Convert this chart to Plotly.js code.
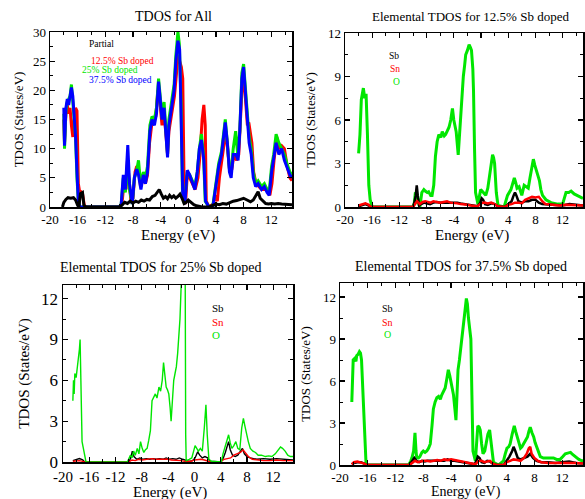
<!DOCTYPE html>
<html><head><meta charset="utf-8">
<script src="https://cdn.plot.ly/plotly-3.0.1.min.js"></script>
<style>html,body{margin:0;padding:0;background:#fff}#chart{width:585px;height:499px}</style>
</head><body><div id="chart"></div>
<script>
// ---------- tick labels ----------
const xTickVals = [-20,-16,-12,-8,-4,0,4,8,12];
const xTickText = ['-20','-16','-12','-8','-4','0','4','8','12'];

// ---------- panel 1: TDOS for All (energy eV, states/eV) ----------
const tdosPartial = [[-18.2,0],[-18.0,0.8],[-17.7,1.3],[-17.4,1.6],[-17.0,1.5],[-16.6,1.6],[-16.3,1.2],[-16.0,0.3],[-15.8,0.2],[-15.6,2.3],[-15.3,2.5],[-15.1,0.3],[-14.8,0],[-10.0,0],[-9.6,0.3],[-9.2,0.8],[-8.8,0.6],[-8.4,1.0],[-8.0,0.7],[-7.6,1.0],[-7.2,0.8],[-6.8,1.2],[-6.4,1.0],[-6.0,1.3],[-5.6,1.2],[-5.2,1.8],[-4.8,2.0],[-4.5,2.5],[-4.2,3.0],[-3.9,2.2],[-3.6,1.5],[-3.3,1.8],[-3.0,1.4],[-2.7,2.0],[-2.4,1.6],[-2.1,1.9],[-1.8,1.5],[-1.5,1.8],[-1.2,2.2],[-0.9,1.5],[-0.6,0.6],[-0.3,0.8],[0.0,1.2],[0.4,0.8],[0.8,0.4],[1.2,0.2],[1.6,0.1],[2.0,0.0],[3.0,0.0],[3.5,0.2],[4.0,0.5],[4.5,0.4],[5.0,0.6],[5.5,0.5],[6.0,0.8],[6.5,1.0],[7.0,1.1],[7.5,1.3],[8.0,1.5],[8.5,1.2],[9.0,0.9],[9.4,1.2],[9.8,2.0],[10.1,2.6],[10.4,1.5],[10.8,1.0],[11.2,0.6],[11.6,0.5],[12.0,0.6],[12.5,0.5],[13.0,0.6],[13.5,0.5],[14.0,0.5],[14.5,0.4],[15.0,0.4]];
const tdos125 = [[-18.0,15],[-17.9,11],[-17.7,16],[-17.5,17.5],[-17.3,16],[-17.1,17],[-16.9,14],[-16.7,12],[-16.5,15],[-16.3,17],[-16.1,16.5],[-15.9,4],[-15.7,2.5],[-15.5,2.6],[-15.3,2.3],[-15.1,0.2],[-15.0,0],[-10.0,0],[-9.6,0.5],[-9.3,4],[-9.0,3],[-8.8,8],[-8.6,5],[-8.3,1],[-8.0,1.5],[-7.7,6],[-7.45,7],[-7.2,6.5],[-6.9,3.5],[-6.5,5],[-6.2,4],[-5.9,5.5],[-5.6,11],[-5.3,14],[-5.0,15],[-4.7,15.5],[-4.4,20],[-4.1,18],[-3.8,14],[-3.5,16],[-3.2,12],[-3.0,9],[-2.8,13],[-2.4,16],[-2.0,19],[-1.7,23],[-1.5,26],[-1.25,25],[-1.0,24],[-0.8,22],[-0.6,3],[-0.4,0.5],[-0.15,5.5],[0.2,5],[0.6,4],[1.0,3],[1.4,5],[1.7,9],[2.0,15],[2.25,17.5],[2.45,14],[2.6,1],[3.0,0],[3.6,0.5],[3.9,2],[4.2,1],[4.5,5],[4.9,8],[5.2,11],[5.45,13],[5.7,10],[6.0,6],[6.3,6.5],[6.6,9],[7.0,8],[7.3,9],[7.55,15],[7.8,21],[8.05,22],[8.3,17],[8.55,14],[8.75,14.5],[9.0,12],[9.2,11],[9.45,6],[9.8,4],[10.2,3.5],[10.6,3],[11.0,3],[11.4,3],[11.8,2],[12.1,4],[12.4,8],[12.8,12],[13.1,10],[13.5,10.5],[13.9,10],[14.3,7],[14.7,5],[15.0,4.5]];
const tdos25 = [[-18.0,16],[-17.9,10],[-17.7,16.5],[-17.5,18],[-17.3,18.5],[-17.1,19],[-16.9,21],[-16.7,18],[-16.5,15],[-16.3,12],[-16.1,5],[-15.9,1],[-15.7,0],[-15.0,0],[-10.0,0],[-9.7,0.5],[-9.4,5],[-9.1,2.5],[-8.9,6],[-8.75,8],[-8.5,3],[-8.1,0.5],[-7.8,5],[-7.5,6],[-7.2,8],[-6.9,4],[-6.5,6],[-6.2,5],[-5.9,7],[-5.55,14],[-5.25,15.5],[-4.9,15],[-4.6,17],[-4.3,22],[-4.1,19.5],[-3.8,15.5],[-3.5,18],[-3.25,14],[-3.0,9],[-2.8,15],[-2.4,18],[-2.05,21],[-1.8,26],[-1.5,30],[-1.3,28],[-1.05,18],[-0.85,3],[-0.55,0.5],[-0.15,6],[0.2,5.5],[0.6,4.5],[0.95,3.5],[1.3,6],[1.6,10],[1.9,12.5],[2.2,9],[2.45,1],[3.0,0],[3.55,0.2],[4.0,4.5],[4.4,7.5],[4.8,9.5],[5.1,12.5],[5.35,15],[5.65,11],[5.95,6.5],[6.2,6],[6.5,10],[6.85,13],[7.15,9],[7.45,13],[7.75,23],[8.0,24.5],[8.2,21],[8.5,16],[8.8,12],[9.1,10],[9.4,6],[9.75,4],[10.1,4.5],[10.6,3.5],[11.0,4],[11.4,3],[11.7,2.5],[12.05,7],[12.35,9],[12.7,12.5],[13.1,11],[13.5,10],[13.9,9],[14.25,7.5],[14.7,6],[15.0,5.5]];
const tdos375 = [[-18.0,17],[-17.9,10.5],[-17.7,17],[-17.5,18.5],[-17.3,17.5],[-17.1,19.5],[-16.9,20.5],[-16.7,19],[-16.5,16],[-16.3,12],[-16.1,6],[-15.9,1],[-15.7,0],[-15.0,0],[-10.0,0],[-9.7,0.5],[-9.4,5.5],[-9.1,3],[-8.9,8],[-8.75,10.6],[-8.5,4],[-8.1,0.5],[-7.8,5],[-7.45,6.5],[-7.2,5.5],[-6.85,3],[-6.5,5.5],[-6.2,4],[-5.9,6],[-5.55,13],[-5.25,15],[-4.9,14],[-4.6,16],[-4.3,21.5],[-4.1,19],[-3.8,15],[-3.5,17],[-3.25,13],[-3.0,8.5],[-2.8,14],[-2.4,17],[-2.05,20],[-1.8,25],[-1.5,28.5],[-1.25,27],[-1.0,15],[-0.8,2],[-0.5,0.5],[-0.15,6.3],[0.2,5.5],[0.6,4],[0.95,3],[1.3,6],[1.6,10],[1.9,11.5],[2.25,8],[2.5,1],[3.0,0],[3.55,0],[4.0,4],[4.4,7],[4.8,9],[5.1,12],[5.35,14.5],[5.65,11],[5.95,6],[6.2,5],[6.5,9],[6.9,9],[7.2,8],[7.45,13],[7.75,22],[8.0,24],[8.2,21],[8.5,15],[8.8,11],[9.1,9],[9.4,5],[9.75,3.5],[10.1,4],[10.6,3],[11.0,3.5],[11.4,2.5],[11.7,2],[12.05,6],[12.35,8],[12.7,11],[13.1,9],[13.5,10],[13.9,8],[14.25,7],[14.7,5.5],[15.0,5]];

// ---------- panel 2: 12.5% Sb doped ----------
const sb125 = [[-18.0,0.05],[-17.5,0.1],[-17.0,0.2],[-16.5,0.1],[-16.2,0],[-10.0,0],[-9.8,0.3],[-9.6,0.8],[-9.45,1.5],[-9.3,0.8],[-9.1,0.1],[-8.8,0.2],[-8.4,0.3],[-8.0,0.25],[-7.5,0.2],[-7.0,0.3],[-6.5,0.35],[-6.0,0.3],[-5.5,0.3],[-5.0,0.35],[-4.5,0.3],[-4.0,0.35],[-3.5,0.3],[-3.0,0.25],[-2.5,0.2],[-2.0,0.2],[-1.5,0.15],[-1.0,0.1],[-0.5,0.05],[-0.1,0.3],[0.1,0.6],[0.3,0.5],[0.6,0.2],[1.0,0.15],[1.5,0.25],[2.0,0.2],[2.5,0.05],[3.5,0.0],[4.0,0.2],[4.5,0.4],[4.8,0.8],[5.0,1.0],[5.2,0.8],[5.5,0.4],[6.0,0.3],[6.5,0.4],[7.0,0.4],[7.5,0.5],[8.0,0.5],[8.5,0.3],[9.0,0.2],[10.0,0.15],[11.0,0.1],[12.0,0.1],[13.0,0.2],[14.0,0.15],[15.0,0.1]];
const sn125 = [[-18.0,0.1],[-17.5,0.2],[-17.0,0.25],[-16.5,0.15],[-16.2,0],[-10.0,0],[-9.7,0.2],[-9.4,0.4],[-9.0,0.2],[-8.6,0.35],[-8.2,0.4],[-7.8,0.35],[-7.4,0.3],[-7.0,0.4],[-6.5,0.35],[-6.0,0.3],[-5.5,0.35],[-5.0,0.4],[-4.5,0.3],[-4.0,0.3],[-3.5,0.25],[-3.0,0.2],[-2.5,0.2],[-2.0,0.15],[-1.5,0.1],[-1.0,0.1],[-0.5,0.05],[0.0,0.25],[0.5,0.3],[1.0,0.25],[1.5,0.3],[2.0,0.2],[2.5,0.05],[3.5,0.0],[4.0,0.15],[4.5,0.2],[5.0,0.3],[5.5,0.3],[6.0,0.25],[6.5,0.5],[7.0,0.6],[7.5,0.7],[8.0,0.65],[8.5,0.7],[9.0,0.4],[9.5,0.2],[10.5,0.15],[11.5,0.1],[12.5,0.15],[13.5,0.15],[15.0,0.1]];
const o125 = [[-18.0,3.7],[-17.8,5],[-17.6,7.4],[-17.4,7.9],[-17.3,8.2],[-17.1,7.5],[-16.9,7.8],[-16.7,5],[-16.5,1.5],[-16.3,0.5],[-16.0,0],[-10.0,0],[-9.8,0.3],[-9.65,1.0],[-9.4,0.8],[-9.2,0.3],[-9.0,0],[-8.7,1.0],[-8.4,1.2],[-8.2,1.1],[-7.9,1.0],[-7.7,1.05],[-7.4,0.8],[-7.2,0.8],[-6.95,1.5],[-6.7,3.5],[-6.45,4.5],[-6.2,5.0],[-5.9,4.8],[-5.7,5.2],[-5.4,4.9],[-5.2,5.0],[-4.9,5.3],[-4.7,5.5],[-4.45,6.0],[-4.2,6.8],[-4.0,6.0],[-3.8,5.6],[-3.65,5.2],[-3.35,3.6],[-3.15,5.0],[-3.0,6.5],[-2.8,7.8],[-2.6,9.0],[-2.4,9.8],[-2.25,10.5],[-2.0,10.8],[-1.75,11.2],[-1.55,11.0],[-1.4,10.8],[-1.2,9.5],[-1.1,8.0],[-0.95,4],[-0.8,1.0],[-0.45,0.2],[-0.2,0.8],[-0.05,1.2],[0.35,1.0],[0.7,0.8],[1.0,1.3],[1.2,2.0],[1.5,3.0],[1.7,3.6],[1.85,3.4],[2.0,3.0],[2.25,1.0],[2.5,0.1],[3.4,0],[3.9,0.8],[4.4,1.2],[4.7,1.6],[4.9,2.0],[5.1,1.7],[5.3,1.3],[5.6,1.4],[6.0,0.8],[6.35,1.5],[6.7,1.4],[6.95,1.3],[7.2,2.0],[7.35,2.5],[7.55,3.0],[7.7,3.3],[7.9,2.9],[8.1,2.5],[8.35,2.2],[8.6,1.8],[8.8,1.2],[9.05,0.8],[9.55,0.5],[10.3,0.3],[11.3,0.2],[12.0,0.2],[12.3,0.6],[12.5,1.0],[12.9,1.0],[13.25,1.1],[13.7,0.9],[14.2,0.8],[14.6,0.7],[15.0,0.6]];

// ---------- panel 3: 25% Sb doped ----------
const sb25 = [[-18.5,0.1],[-18.0,0.2],[-17.5,0.25],[-17.0,0.15],[-16.7,0],[-10.0,0],[-9.7,0.3],[-9.45,0.8],[-9.2,0.4],[-8.8,0.2],[-8.3,0.3],[-7.8,0.2],[-7.3,0.25],[-6.8,0.2],[-6.3,0.25],[-5.8,0.2],[-5.3,0.25],[-4.8,0.2],[-4.3,0.3],[-3.8,0.2],[-3.3,0.25],[-2.8,0.2],[-2.3,0.3],[-1.8,0.2],[-1.3,0.1],[-0.8,0.05],[-0.3,0.1],[0.1,0.3],[0.5,0.75],[0.8,0.5],[1.2,0.3],[1.6,0.4],[2.0,0.3],[2.4,0.05],[4.0,0.0],[4.4,0.3],[4.7,0.7],[5.0,1.2],[5.2,1.5],[5.45,0.9],[5.8,0.5],[6.2,0.4],[6.6,0.5],[7.0,0.8],[7.3,1.0],[7.6,0.6],[8.0,0.4],[8.5,0.3],[9.0,0.25],[9.5,0.2],[10.5,0.25],[11.5,0.2],[12.5,0.25],[13.5,0.2],[14.5,0.2],[15.0,0.15]];
const sn25 = [[-18.5,0.05],[-18.0,0.1],[-17.5,0.1],[-17.0,0.05],[-16.7,0],[-10.0,0],[-9.5,0.15],[-9.0,0.1],[-8.5,0.2],[-8.0,0.15],[-7.5,0.2],[-7.0,0.2],[-6.5,0.25],[-6.0,0.2],[-5.5,0.2],[-5.0,0.25],[-4.5,0.2],[-4.0,0.2],[-3.5,0.15],[-3.0,0.15],[-2.5,0.1],[-2.0,0.1],[-1.5,0.05],[-1.0,0.05],[-0.5,0.05],[0.0,0.15],[0.5,0.2],[1.0,0.2],[1.5,0.15],[2.0,0.1],[2.5,0.0],[4.0,0.0],[4.5,0.2],[5.0,0.25],[5.5,0.3],[6.0,0.5],[6.5,0.6],[7.0,0.7],[7.4,0.9],[7.8,0.6],[8.2,0.4],[8.8,0.2],[9.5,0.15],[10.5,0.1],[11.5,0.1],[12.5,0.15],[13.5,0.1],[15.0,0.1]];
const o25 = [[-18.5,4.5],[-18.4,6.0],[-18.3,5.0],[-18.2,6.5],[-18.0,6.2],[-17.8,7.0],[-17.6,7.5],[-17.5,8.3],[-17.4,9.0],[-17.3,7.0],[-17.2,4.0],[-17.1,1.5],[-16.9,1.0],[-16.7,0.3],[-16.5,0],[-10.2,0],[-9.75,0.5],[-9.5,0.3],[-9.25,0.8],[-9.0,0.5],[-8.7,1.0],[-8.45,0.6],[-8.2,1.5],[-7.95,1.0],[-7.7,0.7],[-7.45,0.9],[-7.2,1.0],[-6.95,1.6],[-6.7,2.3],[-6.45,4.5],[-6.2,4.8],[-5.95,5.0],[-5.7,4.7],[-5.4,5.5],[-5.15,5.2],[-4.9,6.0],[-4.7,7.3],[-4.5,6.2],[-4.3,5.5],[-4.1,5.3],[-3.9,5.0],[-3.7,4.0],[-3.55,3.0],[-3.35,4.5],[-3.15,6.0],[-2.95,6.5],[-2.75,7.0],[-2.55,8.0],[-2.4,9.0],[-2.2,10.5],[-2.0,13.2],[-1.8,13.5],[-1.6,13.2],[-1.4,13.0],[-1.33,2.0],[-1.25,0.1],[-0.8,0.2],[-0.4,0.3],[0.1,1.2],[0.35,1.0],[0.6,0.8],[0.9,1.0],[1.2,0.8],[1.5,2.5],[1.75,4.2],[1.95,2.0],[2.2,0.2],[2.6,0.05],[4.1,0.0],[4.35,0.6],[4.6,1.0],[4.9,1.4],[5.2,2.0],[5.45,1.4],[5.7,1.0],[6.0,1.2],[6.3,1.5],[6.6,1.0],[6.9,0.9],[7.2,2.5],[7.45,3.2],[7.7,2.6],[7.95,2.0],[8.2,1.5],[8.5,1.0],[8.9,0.8],[9.3,0.7],[9.7,0.5],[10.2,0.5],[10.8,0.4],[11.3,0.45],[11.8,0.4],[12.3,0.6],[12.7,0.9],[13.1,1.1],[13.4,1.0],[13.8,0.8],[14.2,0.5],[14.6,0.4],[15.0,0.4]];

// ---------- panel 4: 37.5% Sb doped ----------
const sb375 = [[-18.3,0.05],[-18.0,0.15],[-17.5,0.2],[-17.0,0.2],[-16.5,0.1],[-16.2,0],[-10.0,0],[-9.7,0.2],[-9.3,0.5],[-9.0,0.3],[-8.6,0.2],[-8.2,0.3],[-7.8,0.25],[-7.4,0.3],[-7.0,0.3],[-6.5,0.35],[-6.0,0.3],[-5.5,0.35],[-5.0,0.3],[-4.5,0.4],[-4.0,0.3],[-3.5,0.3],[-3.0,0.25],[-2.5,0.2],[-2.0,0.2],[-1.5,0.15],[-1.0,0.1],[-0.6,0.05],[-0.35,0.3],[-0.15,0.6],[0.1,0.5],[0.4,0.2],[0.8,0.15],[1.2,0.3],[1.6,0.25],[2.0,0.1],[2.5,0.0],[3.6,0.0],[4.0,0.3],[4.4,0.6],[4.8,1.0],[5.0,1.3],[5.25,1.0],[5.6,0.5],[6.0,0.4],[6.5,0.5],[7.0,0.6],[7.4,0.8],[7.8,0.5],[8.3,0.3],[9.0,0.2],[10.0,0.2],[11.0,0.15],[12.0,0.2],[13.0,0.25],[14.0,0.15],[15.0,0.1]];
const sn375 = [[-18.3,0.05],[-18.0,0.2],[-17.5,0.25],[-17.0,0.2],[-16.5,0.1],[-16.2,0],[-10.0,0],[-9.6,0.15],[-9.2,0.3],[-8.8,0.2],[-8.4,0.25],[-8.0,0.3],[-7.5,0.3],[-7.0,0.25],[-6.5,0.3],[-6.0,0.35],[-5.5,0.3],[-5.0,0.4],[-4.5,0.35],[-4.0,0.4],[-3.5,0.35],[-3.0,0.3],[-2.5,0.25],[-2.0,0.2],[-1.5,0.15],[-1.0,0.1],[-0.5,0.05],[0.0,0.3],[0.4,0.3],[0.8,0.2],[1.2,0.25],[1.6,0.3],[2.0,0.1],[2.5,0.0],[3.6,0.0],[4.0,0.2],[4.5,0.3],[5.0,0.4],[5.5,0.35],[6.0,0.3],[6.5,0.5],[6.9,0.8],[7.2,1.2],[7.4,1.3],[7.6,0.8],[8.0,0.5],[8.5,0.3],[9.0,0.2],[10.0,0.15],[11.0,0.15],[12.0,0.2],[13.0,0.2],[14.0,0.15],[15.0,0.1]];
const o375 = [[-18.3,4.5],[-18.2,6.0],[-18.1,7.5],[-17.9,7.6],[-17.7,7.4],[-17.6,7.8],[-17.4,7.9],[-17.2,8.1],[-17.05,8.0],[-16.9,7.5],[-16.7,5.5],[-16.5,3.4],[-16.35,1.0],[-16.25,0.1],[-16.0,0],[-10.1,0],[-9.8,0.3],[-9.65,0.5],[-9.4,1.0],[-9.2,2.3],[-9.05,1.0],[-8.95,0.5],[-8.7,0.5],[-8.5,0.6],[-8.2,0.9],[-8.0,1.0],[-7.75,0.9],[-7.5,1.0],[-7.25,1.2],[-7.0,1.5],[-6.75,2.8],[-6.55,4.0],[-6.3,4.5],[-6.05,4.8],[-5.8,4.9],[-5.55,4.7],[-5.35,5.0],[-5.1,5.2],[-4.85,5.5],[-4.6,6.2],[-4.4,6.8],[-4.2,6.4],[-4.05,6.0],[-3.85,5.5],[-3.65,5.0],[-3.45,4.0],[-3.3,3.2],[-3.15,5.0],[-3.0,6.8],[-2.8,7.5],[-2.6,8.5],[-2.4,9.0],[-2.2,10.0],[-2.0,11.0],[-1.8,11.9],[-1.65,11.5],[-1.5,10.5],[-1.3,9.5],[-1.15,9.0],[-1.0,5.0],[-0.85,1.0],[-0.5,0.3],[-0.3,1.5],[-0.15,2.8],[0.05,2.7],[0.2,2.5],[0.4,1.5],[0.6,0.8],[0.85,1.0],[1.05,1.5],[1.3,2.2],[1.55,2.5],[1.75,1.8],[1.9,1.2],[2.1,0.2],[2.85,0.0],[3.55,0.3],[3.8,0.8],[4.05,1.2],[4.3,1.3],[4.5,1.5],[4.8,2.2],[5.1,2.8],[5.3,2.4],[5.5,2.0],[5.75,1.5],[6.0,1.2],[6.2,1.3],[6.45,1.5],[6.75,1.7],[7.0,2.0],[7.2,2.4],[7.4,2.7],[7.65,2.3],[7.9,2.0],[8.1,1.6],[8.35,1.3],[8.6,0.9],[8.85,0.6],[9.3,0.5],[9.8,0.5],[10.3,0.45],[10.75,0.5],[11.2,0.4],[11.7,0.4],[12.1,0.6],[12.45,0.8],[12.8,0.85],[13.2,0.9],[13.5,0.75],[13.9,0.6],[14.4,0.4],[14.85,0.3],[15.0,0.3]];

// ---------- texts ----------
const panelTitles = ['TDOS for All','Elemental TDOS for 12.5% Sb doped','Elemental TDOS for 25% Sb doped','Elemental TDOS for 37.5% Sb doped'];
const xTitle = 'Energy (eV)';
const yTitle = 'TDOS (States/eV)';
const tdosLegend = ['Partial','12.5% Sb doped','25% Sb doped','37.5% Sb doped'];
const elemLegend = ['Sb','Sn','O'];

// ---------- styling ----------
const W = 585, H = 499;
const FONT = 'Liberation Serif, Times New Roman, serif';
const RED = '#ff0000', GREEN = '#00e600', BLUE = '#0000ff', BLACK = '#000000';
const px = (a,b) => [a/W, b/W];
const py = (top,bottom) => [1-bottom/H, 1-top/H];

function tr(pairs, color, width, n, name){
  return {type:'scatter', mode:'lines', x:pairs.map(p=>p[0]), y:pairs.map(p=>p[1]),
    xaxis:'x'+(n===1?'':n), yaxis:'y'+(n===1?'':n), name:name,
    line:{color:color, width:width}, hoverinfo:'skip', showlegend:false};
}
function xax(dom, n, fs){
  return {domain:dom, anchor:'y'+(n===1?'':n), range:[-20,15], tickmode:'array', tickvals:xTickVals, ticktext:xTickText,
    ticks:'inside', ticklen:5, tickwidth:1.2, tickcolor:'#000',
    minor:{tickmode:'linear', tick0:-20, dtick:2, ticks:'inside', ticklen:3, tickwidth:1, tickcolor:'#000'},
    showline:true, linecolor:'#000', linewidth:1.5, mirror:'allticks', showgrid:false, zeroline:false,
    tickfont:{family:FONT, size:fs, color:'#000'}, fixedrange:true};
}
function yax(dom, n, range, dtick, fs, ts, standoff){
  return {domain:dom, anchor:'x'+(n===1?'':n), range:range, tickmode:'linear', tick0:0, dtick:dtick,
    ticks:'inside', ticklen:5, tickwidth:1.2, tickcolor:'#000',
    minor:{tickmode:'linear', tick0:0, dtick:dtick/2, ticks:'inside', ticklen:3, tickwidth:1, tickcolor:'#000'},
    showline:true, linecolor:'#000', linewidth:1.5, mirror:'allticks', showgrid:false, zeroline:false,
    tickfont:{family:FONT, size:fs, color:'#000'},
    title:{text:yTitle, font:{family:FONT, size:ts, color:'#000'}, standoff:standoff}, fixedrange:true};
}
function ann(text, x, y, size, color){
  return {text:text, x:x/W, y:1-y/H, xref:'paper', yref:'paper', showarrow:false, xanchor:'center', yanchor:'middle',
    borderpad:0, font:{family:FONT, size:size, color:color||'#000'}};
}

const data = [
  tr(tdos125, RED, 3, 1, tdosLegend[1]),
  tr(tdos25, GREEN, 3, 1, tdosLegend[2]),
  tr(tdos375, BLUE, 3, 1, tdosLegend[3]),
  tr(tdosPartial, BLACK, 3, 1, tdosLegend[0]),
  tr(o125, GREEN, 3, 2, 'O'), tr(sb125, BLACK, 2.5, 2, 'Sb'), tr(sn125, RED, 2.5, 2, 'Sn'),
  tr(sb25, BLACK, 1.4, 3, 'Sb'), tr(sn25, RED, 1.4, 3, 'Sn'), tr(o25, GREEN, 1.4, 3, 'O'),
  tr(o375, GREEN, 3, 4, 'O'), tr(sb375, BLACK, 2.5, 4, 'Sb'), tr(sn375, RED, 2.5, 4, 'Sn')
];

const layout = {
  width:W, height:H, margin:{l:0,r:0,t:0,b:0}, paper_bgcolor:'#fff', plot_bgcolor:'#fff', showlegend:false,
  xaxis:  xax(px(50,292), 1, 13),
  yaxis:  yax(py(32,207), 1, [0,30], 5, 13, 13, 6),
  xaxis2: xax(px(345,583), 2, 13),
  yaxis2: yax(py(33,207), 2, [0,12], 3, 13, 13, 9),
  xaxis3: xax(px(63,293), 3, 15),
  yaxis3: yax(py(285,462), 3, [0,13], 3, 17, 15, 8),
  xaxis4: xax(px(340,583), 4, 13),
  yaxis4: yax(py(283,465), 4, [0,13], 3, 13, 13, 9),
  annotations: [
    ann(panelTitles[0], 173, 16, 14),
    ann(panelTitles[1], 470, 16, 13),
    ann(panelTitles[2], 161, 267, 14),
    ann(panelTitles[3], 461, 266, 14),
    ann(xTitle, 178, 235, 15),
    ann(xTitle, 472, 235, 15),
    ann(xTitle, 170, 492, 15),
    ann(xTitle, 466, 492, 14),
    ann(tdosLegend[0], 101, 44, 9.5, BLACK),
    ann(tdosLegend[1], 122, 61, 9.5, RED),
    ann(tdosLegend[2], 110, 70, 9.5, GREEN),
    ann(tdosLegend[3], 120, 80, 9.5, BLUE),
    ann(elemLegend[0], 394, 56, 9.5, BLACK),
    ann(elemLegend[1], 395, 69, 9.5, RED),
    ann(elemLegend[2], 396, 82, 9.5, GREEN),
    ann(elemLegend[0], 218, 308, 11, BLACK),
    ann(elemLegend[1], 218, 322, 11, RED),
    ann(elemLegend[2], 216, 335, 11, GREEN),
    ann(elemLegend[0], 387, 308, 10, BLACK),
    ann(elemLegend[1], 387, 322, 10, RED),
    ann(elemLegend[2], 387, 334, 10, GREEN)
  ]
};

Plotly.newPlot('chart', data, layout, {staticPlot:true, displayModeBar:false});
</script>
</body></html>
